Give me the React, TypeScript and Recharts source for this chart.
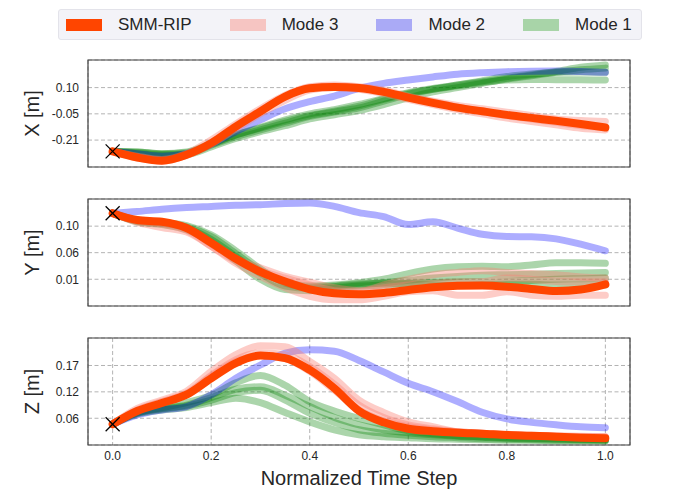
import React from 'react';
import {
  ComposedChart,
  Line,
  Scatter,
  XAxis,
  YAxis,
  CartesianGrid,
  ReferenceArea,
} from 'recharts';

const timeSteps = [0, 0.05, 0.1, 0.15, 0.2, 0.25, 0.3, 0.35, 0.4, 0.45, 0.5, 0.55, 0.6, 0.65, 0.7, 0.75, 0.8, 0.85, 0.9, 0.95, 1.0];
const timeTicks = [0, 0.2, 0.4, 0.6, 0.8, 1.0];
const timeTickLabels = ['0.0', '0.2', '0.4', '0.6', '0.8', '1.0'];

// X [m]
const xSmm = [-0.277, -0.313, -0.332, -0.297, -0.228, -0.13, -0.041, 0.047, 0.096, 0.104, 0.098, 0.075, 0.041, 0.01, -0.018, -0.04, -0.061, -0.079, -0.096, -0.115, -0.136];
const xMode2 = [-0.277, -0.29, -0.305, -0.29, -0.235, -0.16, -0.09, -0.025, 0.017, 0.05, 0.095, 0.125, 0.145, 0.163, 0.179, 0.188, 0.194, 0.197, 0.198, 0.195, 0.19];
const xMode1 = [
  [-0.277, -0.28, -0.29, -0.285, -0.235, -0.18, -0.135, -0.09, -0.055, -0.03, 0.0, 0.035, 0.07, 0.095, 0.115, 0.135, 0.155, 0.175, 0.195, 0.22, 0.234],
  [-0.277, -0.285, -0.295, -0.29, -0.24, -0.19, -0.15, -0.11, -0.07, -0.045, -0.02, 0.02, 0.06, 0.09, 0.115, 0.14, 0.165, 0.18, 0.19, 0.192, 0.19],
  [-0.277, -0.28, -0.29, -0.28, -0.23, -0.18, -0.14, -0.1, -0.065, -0.04, -0.01, 0.03, 0.065, 0.09, 0.11, 0.13, 0.145, 0.148, 0.147, 0.146, 0.145],
  [-0.277, -0.29, -0.3, -0.295, -0.25, -0.2, -0.16, -0.125, -0.085, -0.06, -0.035, 0.0, 0.04, 0.075, 0.1, 0.125, 0.15, 0.17, 0.19, 0.205, 0.215],
];
const xMode3 = [
  [-0.277, -0.305, -0.325, -0.29, -0.21, -0.115, -0.025, 0.055, 0.105, 0.115, 0.105, 0.085, 0.05, 0.02, -0.005, -0.025, -0.045, -0.065, -0.085, -0.095, -0.1],
  [-0.277, -0.315, -0.335, -0.3, -0.235, -0.145, -0.055, 0.025, 0.085, 0.1, 0.09, 0.065, 0.03, 0.0, -0.03, -0.055, -0.08, -0.1, -0.12, -0.14, -0.15],
  [-0.277, -0.31, -0.33, -0.3, -0.225, -0.125, -0.035, 0.045, 0.1, 0.108, 0.1, 0.078, 0.045, 0.015, -0.015, -0.04, -0.065, -0.085, -0.105, -0.125, -0.135],
];

// Y [m]
const ySmm = [0.126, 0.114, 0.111, 0.1, 0.074, 0.046, 0.023, 0.006, -0.0076, -0.0146, -0.0164, -0.014, -0.009, -0.004, -0.0013, -0.001, -0.003, -0.007, -0.0106, -0.008, 0.0012];
const yMode2 = [0.126, 0.129, 0.133, 0.136, 0.138, 0.14, 0.141, 0.143, 0.144, 0.138, 0.127, 0.12, 0.106, 0.111, 0.1, 0.089, 0.085, 0.0845, 0.081, 0.0716, 0.06];
const yMode1 = [
  [0.126, 0.112, 0.108, 0.102, 0.085, 0.055, 0.025, 0.005, -0.002, 0.0, 0.004, 0.01, 0.02, 0.028, 0.032, 0.033, 0.032, 0.035, 0.039, 0.039, 0.038],
  [0.126, 0.113, 0.109, 0.1, 0.08, 0.05, 0.02, -0.002, -0.006, -0.003, 0.0, 0.004, 0.008, 0.012, 0.015, 0.017, 0.018, 0.019, 0.02, 0.021, 0.022],
  [0.126, 0.111, 0.106, 0.097, 0.075, 0.042, 0.01, -0.008, -0.01, -0.006, -0.002, 0.0, 0.003, 0.004, 0.005, 0.005, 0.006, 0.008, 0.01, 0.011, 0.012],
  [0.126, 0.114, 0.11, 0.104, 0.088, 0.06, 0.028, 0.003, -0.004, -0.002, 0.002, 0.003, 0.002, 0.0, -0.001, 0.0, 0.001, 0.001, 0.0, 0.0, 0.0],
];
const yMode3 = [
  [0.126, 0.112, 0.107, 0.096, 0.068, 0.042, 0.025, 0.012, 0.0, -0.01, -0.012, 0.0, 0.01, 0.018, 0.022, 0.025, 0.022, 0.02, 0.018, 0.014, 0.012],
  [0.126, 0.11, 0.101, 0.093, 0.068, 0.038, 0.015, -0.005, -0.02, -0.026, -0.026, -0.02, -0.012, -0.01, -0.018, -0.018, -0.012, -0.018, -0.02, -0.018, -0.018],
  [0.126, 0.113, 0.109, 0.099, 0.072, 0.046, 0.03, 0.015, 0.005, -0.005, -0.01, -0.005, 0.0, 0.003, 0.005, 0.006, 0.012, 0.01, 0.006, 0.005, 0.005],
];

// Z [m]
const zSmm = [0.0512, 0.078, 0.094, 0.111, 0.144, 0.175, 0.19, 0.185, 0.161, 0.124, 0.078, 0.055, 0.042, 0.037, 0.034, 0.032, 0.0295, 0.028, 0.026, 0.024, 0.0228];
const zMode2 = [0.0512, 0.07, 0.08, 0.087, 0.111, 0.144, 0.171, 0.195, 0.2018, 0.199, 0.18, 0.157, 0.134, 0.117, 0.097, 0.0755, 0.062, 0.055, 0.05, 0.046, 0.0443];
const zMode1 = [
  [0.0512, 0.075, 0.085, 0.095, 0.11, 0.135, 0.15, 0.13, 0.097, 0.078, 0.063, 0.05, 0.038, 0.032, 0.028, 0.026, 0.024, 0.023, 0.022, 0.021, 0.02],
  [0.0512, 0.074, 0.083, 0.09, 0.105, 0.122, 0.127, 0.11, 0.087, 0.065, 0.05, 0.04, 0.034, 0.03, 0.027, 0.025, 0.023, 0.022, 0.021, 0.02, 0.02],
  [0.0512, 0.073, 0.082, 0.088, 0.1, 0.115, 0.12, 0.1, 0.0735, 0.055, 0.04, 0.033, 0.029, 0.026, 0.024, 0.022, 0.021, 0.02, 0.019, 0.019, 0.018],
  [0.0512, 0.072, 0.08, 0.085, 0.095, 0.104, 0.095, 0.075, 0.056, 0.04, 0.03, 0.026, 0.024, 0.022, 0.021, 0.02, 0.019, 0.019, 0.018, 0.018, 0.018],
];
const zMode3 = [
  [0.0512, 0.083, 0.1, 0.118, 0.158, 0.192, 0.21, 0.208, 0.178, 0.144, 0.1, 0.075, 0.056, 0.046, 0.036, 0.032, 0.03, 0.028, 0.027, 0.026, 0.026],
  [0.0512, 0.08, 0.097, 0.114, 0.15, 0.182, 0.196, 0.192, 0.168, 0.132, 0.09, 0.065, 0.05, 0.042, 0.036, 0.033, 0.031, 0.029, 0.028, 0.027, 0.026],
  [0.0512, 0.079, 0.096, 0.112, 0.148, 0.178, 0.19, 0.184, 0.158, 0.12, 0.08, 0.058, 0.046, 0.04, 0.036, 0.033, 0.03, 0.028, 0.027, 0.026, 0.025],
];

const legendItems = [
  { name: 'SMM-RIP', color: '#ff4500' },
  { name: 'Mode 3', color: '#f6c5c2' },
  { name: 'Mode 2', color: '#aaaaf6' },
  { name: 'Mode 1', color: '#a8d4a8' },
];

const panels = [
  {
    label: 'X [m]', smm: xSmm, mode2: xMode2, mode1: xMode1, mode3: xMode3,
    domain: [-0.369, 0.263], ticks: [-0.21, -0.055, 0.1], tickLabels: ['-0.21', '-0.05', '0.10'],
  },
  {
    label: 'Y [m]', smm: ySmm, mode2: yMode2, mode1: yMode1, mode3: yMode3,
    domain: [-0.037, 0.151], ticks: [0.01, 0.0567, 0.1033], tickLabels: ['0.01', '0.06', '0.10'],
  },
  {
    label: 'Z [m]', smm: zSmm, mode2: zMode2, mode1: zMode1, mode3: zMode3,
    domain: [0.0092, 0.2256], ticks: [0.0633, 0.1167, 0.17], tickLabels: ['0.06', '0.12', '0.17'],
  },
];

const FONT = '"Liberation Sans", Arial, sans-serif';
const TEXT = '#262626';

function XMark(props: any) {
  const { cx, cy } = props;
  if (cx == null || cy == null) return <g />;
  return (
    <g stroke="#000" strokeWidth={1.2}>
      <line x1={cx - 7} y1={cy - 7} x2={cx + 7} y2={cy + 7} />
      <line x1={cx - 7} y1={cy + 7} x2={cx + 7} y2={cy - 7} />
    </g>
  );
}

function Panel({ panel, bottom }: { panel: typeof panels[number]; bottom: boolean }) {
  const rows = timeSteps.map((t, i) => {
    const row: Record<string, number> = { t, smm: panel.smm[i], m2: panel.mode2[i] };
    panel.mode1.forEach((s, k) => (row['g' + k] = s[i]));
    panel.mode3.forEach((s, k) => (row['p' + k] = s[i]));
    return row;
  });
  const start = [{ t: 0, v: panel.smm[0] }];

  return (
    <ComposedChart
      width={700}
      height={bottom ? 167 : 117}
      data={rows}
      margin={{ top: 5, right: 70, bottom: bottom ? 0 : 5, left: 0 }}
    >
      <CartesianGrid strokeDasharray="4 2.5" stroke="#b3b3b3" strokeWidth={1} />
      <XAxis
        type="number"
        dataKey="t"
        domain={[-0.05, 1.05]}
        ticks={timeTicks}
        allowDataOverflow
        axisLine={false}
        tickLine={false}
        height={bottom ? 55 : 0}
        tick={bottom ? { fontSize: 12, fill: TEXT } : false}
        tickSize={3}
        tickMargin={3}
        tickFormatter={(v) => timeTickLabels[timeTicks.indexOf(v)]}
        label={bottom ? { value: 'Normalized Time Step', position: 'insideBottom', offset: 15, fontSize: 20, fill: TEXT } : undefined}
      />
      <YAxis
        type="number"
        domain={panel.domain}
        ticks={panel.ticks}
        allowDataOverflow
        width={88}
        axisLine={false}
        tickLine={false}
        tickSize={6}
        tickMargin={3}
        tick={{ fontSize: 12, fill: TEXT }}
        tickFormatter={(v) => panel.tickLabels[panel.ticks.indexOf(v)]}
        label={{
          content: ({ viewBox }: any) => (
            <text
              x={viewBox.x + 32}
              y={viewBox.y + viewBox.height / 2}
              transform={`rotate(-90 ${viewBox.x + 32} ${viewBox.y + viewBox.height / 2})`}
              textAnchor="middle"
              dominantBaseline="central"
              fontSize={20}
              fill={TEXT}
            >
              {panel.label}
            </text>
          ),
        }}
      />
      {panel.mode1.map((_, k) => (
        <Line key={'g' + k} type="monotone" dataKey={'g' + k} stroke="#008000" strokeOpacity={0.33}
          strokeWidth={7} strokeLinecap="round" dot={false} isAnimationActive={false} />
      ))}
      <Line type="monotone" dataKey="m2" stroke="#0000ff" strokeOpacity={0.32}
        strokeWidth={7} strokeLinecap="round" dot={false} isAnimationActive={false} />
      {panel.mode3.map((_, k) => (
        <Line key={'p' + k} type="monotone" dataKey={'p' + k} stroke="#fa8072" strokeOpacity={0.4}
          strokeWidth={7} strokeLinecap="round" dot={false} isAnimationActive={false} />
      ))}
      <Scatter data={start} dataKey="v" shape={<XMark />} isAnimationActive={false} />
      <Line type="monotone" dataKey="smm" stroke="#ff4500" strokeWidth={8}
        strokeLinecap="round" dot={false} isAnimationActive={false} />
      <ReferenceArea x1={-0.05} x2={1.05} y1={panel.domain[0]} y2={panel.domain[1]}
        fill="none" stroke="#404040" strokeWidth={1.2} ifOverflow="visible" />
    </ComposedChart>
  );
}

export default function App() {
  return (
    <div style={{ position: 'absolute', left: 0, top: 0, width: 700, height: 500, background: '#fff', fontFamily: FONT }}>
      <div
        style={{
          position: 'absolute', left: 58, top: 9, width: 584, height: 31, boxSizing: 'border-box',
          background: '#f3f3f8', border: '1px solid #e3e3ea', borderRadius: 3,
          display: 'flex', alignItems: 'center', paddingLeft: 7, whiteSpace: 'nowrap',
        }}
      >
        {legendItems.map((it) => (
          <div key={it.name} style={{ display: 'flex', alignItems: 'center', marginRight: 38, flexShrink: 0 }}>
            <div style={{ width: 36, height: 12, background: it.color, flexShrink: 0 }} />
            <span style={{ marginLeft: 16, fontSize: 17, color: TEXT, whiteSpace: 'nowrap' }}>{it.name}</span>
          </div>
        ))}
      </div>
      <div style={{ position: 'absolute', left: 0, top: 55 }}>
        <Panel panel={panels[0]} bottom={false} />
      </div>
      <div style={{ position: 'absolute', left: 0, top: 194 }}>
        <Panel panel={panels[1]} bottom={false} />
      </div>
      <div style={{ position: 'absolute', left: 0, top: 333 }}>
        <Panel panel={panels[2]} bottom />
      </div>
    </div>
  );
}
